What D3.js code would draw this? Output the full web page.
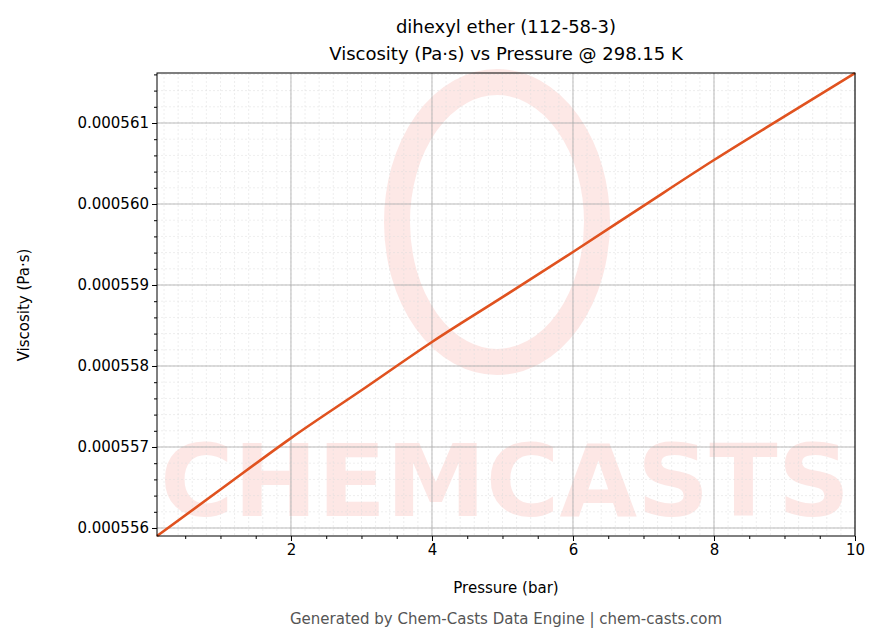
<!DOCTYPE html><html><head><meta charset="utf-8"><script src="https://cdn.jsdelivr.net/npm/d3@7"></script>
<style>body{margin:0;background:#fff}text{font-family:"DejaVu Sans",sans-serif}</style></head><body><svg id="c" width="883" height="644"></svg><script>
const pressure=[0.1,1,2,3,4,5,6,7,8,9,10];
const viscosity=[0.0005559012,0.0005564744,0.00055711,0.0005577,0.0005582963,0.00055885,0.0005594074,0.0005599775,0.0005605432,0.0005610825,0.0005616173];
const xTicks=[2,4,6,8,10];
const yTicks=[0.000556,0.000557,0.000558,0.000559,0.00056,0.000561];
const svg=d3.select("#c");const L=157,R=855,T=73,B=536;
const x=d3.scaleLinear().domain([0.1,10]).range([L,R]);
const y=d3.scaleLinear().domain([0.0005559012,0.0005616173]).range([B,T]);
const wm=svg.append("g").attr("opacity",0.12);
wm.append("ellipse").attr("cx",497).attr("cy",222).attr("rx",100).attr("ry",140).attr("fill","none").attr("stroke","#f04030").attr("stroke-width",26);
wm.append("text").attr("x",505).attr("y",516).attr("text-anchor","middle").attr("font-size",100).attr("font-weight","bold").attr("fill","#f04030").attr("textLength",690).attr("lengthAdjust","spacingAndGlyphs").text("CHEMCASTS");
const g=svg.append("g");
d3.range(0.2,10.01,0.2).forEach(v=>g.append("line").attr("x1",x(v)).attr("x2",x(v)).attr("y1",T).attr("y2",B).attr("stroke","#ddd").attr("stroke-width",0.5).attr("stroke-dasharray","2,2"));
d3.range(0.000556,0.0005617,0.0000002).forEach(v=>g.append("line").attr("y1",y(v)).attr("y2",y(v)).attr("x1",L).attr("x2",R).attr("stroke","#ddd").attr("stroke-width",0.5).attr("stroke-dasharray","2,2"));
xTicks.forEach(v=>g.append("line").attr("x1",x(v)).attr("x2",x(v)).attr("y1",T).attr("y2",B).attr("stroke","#aaa").attr("stroke-width",0.8));
yTicks.forEach(v=>g.append("line").attr("y1",y(v)).attr("y2",y(v)).attr("x1",L).attr("x2",R).attr("stroke","#aaa").attr("stroke-width",0.8));
svg.append("path").datum(pressure.map((p,i)=>[p,viscosity[i]])).attr("d",d3.line().x(d=>x(d[0])).y(d=>y(d[1])).curve(d3.curveMonotoneX)).attr("fill","none").attr("stroke","#e0521f").attr("stroke-width",2.6);
const xa=svg.append("g").attr("transform",`translate(0,${B})`).call(d3.axisBottom(x).tickValues(xTicks).tickSize(5).tickFormat(d3.format("d")));
const xm=svg.append("g").attr("transform",`translate(0,${B})`).call(d3.axisBottom(x).tickValues(d3.range(0.5,10,0.5).filter(v=>v%2!==0)).tickSize(3).tickFormat(""));
const ya=svg.append("g").attr("transform",`translate(${L},0)`).call(d3.axisLeft(y).tickValues(yTicks).tickSize(5).tickFormat(d3.format(".6f")));
const ym=svg.append("g").attr("transform",`translate(${L},0)`).call(d3.axisLeft(y).tickValues(d3.range(0.0005560,0.0005617,0.0000002)).tickSize(3).tickFormat(""));
[xm,ym].forEach(a=>a.selectAll("text").remove());
[xa,xm,ya,ym].forEach(a=>{a.select(".domain").remove();a.selectAll("text").attr("font-size",15).attr("fill","#000");a.selectAll("line").attr("stroke","#000");});
svg.append("rect").attr("x",L).attr("y",T).attr("width",R-L).attr("height",B-T).attr("fill","none").attr("stroke","#000").attr("stroke-width",1);
svg.append("text").attr("x",506).attr("y",33).attr("text-anchor","middle").attr("font-size",18).text("dihexyl ether (112-58-3)");
svg.append("text").attr("x",506).attr("y",60).attr("text-anchor","middle").attr("font-size",18).text("Viscosity (Pa·s) vs Pressure @ 298.15 K");
svg.append("text").attr("x",506).attr("y",593).attr("text-anchor","middle").attr("font-size",15).text("Pressure (bar)");
svg.append("text").attr("transform","translate(29,305) rotate(-90)").attr("text-anchor","middle").attr("font-size",15).text("Viscosity (Pa·s)");
svg.append("text").attr("x",506).attr("y",624).attr("text-anchor","middle").attr("font-size",15).attr("fill","#555").text("Generated by Chem-Casts Data Engine | chem-casts.com");
</script></body></html>
